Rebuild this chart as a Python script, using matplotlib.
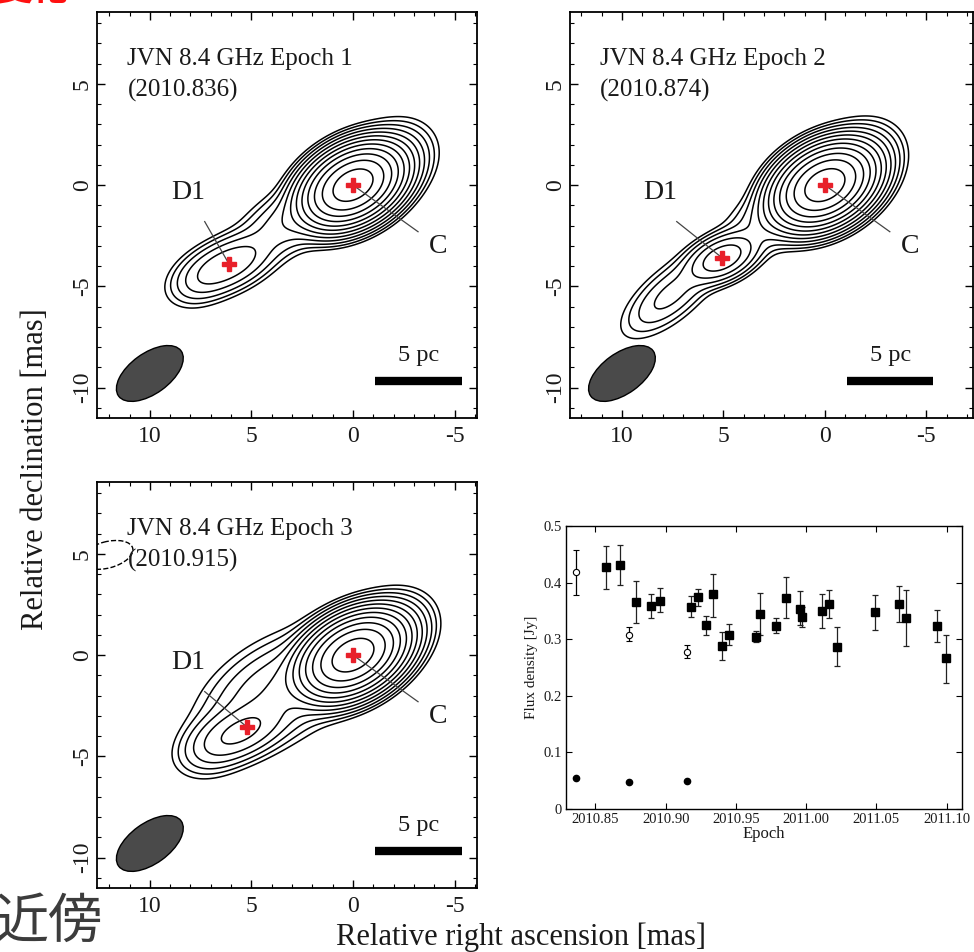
"""
JVN 8.4 GHz maps of C and D1 (three epochs) plus the flux density light curve.
"""

import matplotlib

matplotlib.use("Agg")
import matplotlib.pyplot as plt
import numpy as np
from matplotlib.patches import Ellipse
from matplotlib.ticker import MultipleLocator

plt.rcParams["font.family"] = ["Liberation Serif", "DejaVu Serif"]
plt.rcParams["axes.unicode_minus"] = False

# ---- map panels: epoch labels and component positions (mas) ----
EPOCH_TITLES = ["JVN 8.4 GHz Epoch 1", "JVN 8.4 GHz Epoch 2", "JVN 8.4 GHz Epoch 3"]
EPOCH_DATES = ["(2010.836)", "(2010.874)", "(2010.915)"]
C_POS = [(0.0, 0.0), (0.0, 0.0), (0.0, 0.0)]
D1_POS = [(6.1, -3.9), (5.05, -3.6), (5.22, -3.55)]

# gaussian model components for the brightness distribution of each epoch
# columns: ra, dec, amplitude, sigma_major, sigma_minor, position angle on screen (deg)
EP1_COMP = [
    (0.0, 0.0, 1.0, 1.05, 0.68, 30),
    (-2.0, 1.3, 0.004, 1.0, 0.8, 35),
    (3.0, -1.7, 0.004, 1.4, 0.7, 30),
    (6.1, -3.9, 0.008, 1.2, 0.6, 25),
    (7.4, -4.6, 0.0018, 0.9, 0.6, 30),
]
EP2_COMP = [
    (0.0, 0.0, 1.0, 1.05, 0.7, 30),
    (-1.8, 1.3, 0.004, 1.0, 0.8, 35),
    (2.5, -1.6, 0.003, 1.3, 0.7, 30),
    (5.05, -3.6, 0.016, 0.9, 0.5, 25),
    (7.6, -5.4, 0.003, 1.4, 0.6, 40),
]
EP3_COMP = [
    (0.0, 0.0, 1.0, 1.1, 0.7, 30),
    (-2.0, 1.3, 0.004, 1.0, 0.8, 35),
    (3.6, -1.7, 0.005, 2.0, 1.1, 30),
    (5.5, -3.8, 0.01, 1.2, 0.6, 25),
    (6.8, -4.4, 0.002, 1.0, 0.7, 30),
]
COMPONENTS = [EP1_COMP, EP2_COMP, EP3_COMP]
LEVEL_BASE = 0.6 / 2 ** 11
N_LEVELS = 12

# beam (FWHM, mas) and 5 pc scale bar
BEAM_CENTER = (10.0, -9.3)
BEAM_SIZE = (3.8, 2.0)
BEAM_ANGLE = 144
BAR_RA = (-1.1, -5.35)
BAR_DEC = -9.65

# ---- flux density light curve ----
SQ_EPOCH = [2010.8576, 2010.8675, 2010.8787, 2010.8898, 2010.8957, 2010.9178, 2010.923,
            2010.9289, 2010.9334, 2010.9398, 2010.9448, 2010.964, 2010.9668, 2010.9782,
            2010.986, 2010.9953, 2010.9972, 2011.0111, 2011.0161, 2011.0223, 2011.0493,
            2011.0664, 2011.0713, 2011.0934, 2011.0993]
SQ_FLUX = [0.427, 0.431, 0.366, 0.358, 0.368, 0.357, 0.374, 0.325, 0.379, 0.288, 0.308,
           0.304, 0.344, 0.324, 0.372, 0.354, 0.340, 0.350, 0.363, 0.287, 0.348, 0.363,
           0.337, 0.324, 0.266]
SQ_HIGH = [0.465, 0.466, 0.403, 0.380, 0.390, 0.376, 0.389, 0.341, 0.416, 0.313, 0.327,
           0.315, 0.382, 0.337, 0.409, 0.385, 0.357, 0.380, 0.387, 0.321, 0.378, 0.394,
           0.387, 0.352, 0.308]
SQ_LOW = [0.388, 0.396, 0.328, 0.337, 0.348, 0.339, 0.358, 0.308, 0.340, 0.263, 0.290,
          0.295, 0.308, 0.311, 0.337, 0.325, 0.322, 0.320, 0.338, 0.253, 0.317, 0.331,
          0.288, 0.295, 0.223]
JVN_EPOCH = [2010.836, 2010.874, 2010.915]
C_FLUX = [0.419, 0.308, 0.278]
C_HIGH = [0.458, 0.321, 0.290]
C_LOW = [0.378, 0.297, 0.267]
D1_FLUX = [0.054, 0.047, 0.049]

INK = "#1a1a1a"
RED = "#e8202a"


def model_map(comps, ra, dec):
    z = np.zeros_like(ra)
    for x0, y0, amp, smaj, smin, pa in comps:
        t = np.deg2rad(pa)
        ux, uy = -np.cos(t), np.sin(t)  # RA axis runs right-to-left
        dx, dy = ra - x0, dec - y0
        a = dx * ux + dy * uy
        b = -dx * uy + dy * ux
        z += amp * np.exp(-0.5 * ((a / smaj) ** 2 + (b / smin) ** 2))
    return z


def draw_map(ax, i, xlim):
    ra, dec = np.meshgrid(np.linspace(-9, 15, 500), np.linspace(-13, 10, 480))
    z = model_map(COMPONENTS[i], ra, dec)
    levels = LEVEL_BASE * 2.0 ** np.arange(N_LEVELS)
    ax.contour(ra, dec, z, levels=levels, colors="k", linewidths=1.1)

    ax.add_patch(Ellipse(BEAM_CENTER, BEAM_SIZE[0], BEAM_SIZE[1], angle=BEAM_ANGLE,
                         facecolor="#4a4a4a", edgecolor="k", lw=1))
    ax.plot(BAR_RA, [BAR_DEC, BAR_DEC], color="k", lw=6, solid_capstyle="butt")
    ax.text(np.mean(BAR_RA), BAR_DEC + 0.7, "5 pc", ha="center", va="bottom",
            fontsize=17.5, color=INK)

    ax.text(11.1, 5.95, EPOCH_TITLES[i], fontsize=18, color=INK, va="baseline")
    ax.text(11.1, 4.35, EPOCH_DATES[i], fontsize=18, color=INK, va="baseline")

    # component labels with leader lines
    d1x, d1y = D1_POS[i]
    ax.plot([7.3, d1x], [-1.8, d1y], color="#444444", lw=0.9)
    ax.text(8.1, -1.0, "D1", fontsize=20, color=INK, ha="center", va="bottom")
    cx, cy = C_POS[i]
    ax.plot([cx, -3.2], [cy, -2.3], color="#444444", lw=0.9)
    ax.text(-4.2, -3.05, "C", fontsize=20, color=INK, ha="center", va="center")
    ax.plot([cx, d1x], [cy, d1y], ls="none", marker="P", ms=10, color=RED, mec=RED)

    ax.set_xlim(*xlim)
    ax.set_ylim(-11.5, 8.55)
    ax.xaxis.set_major_locator(MultipleLocator(5))
    ax.xaxis.set_minor_locator(MultipleLocator(1))
    ax.yaxis.set_major_locator(MultipleLocator(5))
    ax.yaxis.set_minor_locator(MultipleLocator(1))
    ax.tick_params(which="both", direction="in", top=True, right=True, colors="k",
                   labelcolor=INK, labelsize=17)
    ax.tick_params(which="major", length=6, width=1)
    ax.tick_params(which="minor", length=3, width=0.8)
    ax.tick_params(axis="x", pad=6)
    ax.tick_params(axis="y", pad=3)
    for lab in ax.get_yticklabels():
        lab.set_rotation(90)
        lab.set_va("center")
    for s in ax.spines.values():
        s.set_linewidth(1.3)


fig = plt.figure(figsize=(9.74, 9.52), dpi=100)

ax1 = fig.add_axes([0.0996, 0.5609, 0.3901, 0.4265])
ax2 = fig.add_axes([0.5852, 0.5609, 0.4138, 0.4265])
ax3 = fig.add_axes([0.0996, 0.0672, 0.3901, 0.4265])
draw_map(ax1, 0, (12.6, -6.1))
draw_map(ax2, 1, (12.56, -7.3))
draw_map(ax3, 2, (12.6, -6.1))
ax3.add_patch(Ellipse((12.1, 4.95), 2.6, 1.3, angle=165, fill=False, ls="--",
                      lw=1, edgecolor="k"))

# flux density panel
ax4 = fig.add_axes([0.5811, 0.1502, 0.4066, 0.2973])
sq_err = [np.array(SQ_FLUX) - np.array(SQ_LOW), np.array(SQ_HIGH) - np.array(SQ_FLUX)]
ax4.errorbar(SQ_EPOCH, SQ_FLUX, yerr=sq_err, fmt="s", ms=5.5, color="k", ecolor="#222222",
             elinewidth=0.9, capsize=2, capthick=0.9)
c_err = [np.array(C_FLUX) - np.array(C_LOW), np.array(C_HIGH) - np.array(C_FLUX)]
ax4.errorbar(JVN_EPOCH, C_FLUX, yerr=c_err, fmt="o", ms=4.5, mfc="white", mec="k",
             mew=0.8, color="k", elinewidth=0.9, capsize=2, capthick=0.9)
ax4.plot(JVN_EPOCH, D1_FLUX, "o", ms=4.5, color="k")
ax4.set_xlim(2010.829, 2011.111)
ax4.set_ylim(0, 0.5)
ax4.set_xticks([2010.85, 2010.90, 2010.95, 2011.00, 2011.05, 2011.10])
ax4.set_xticklabels(["2010.85", "2010.90", "2010.95", "2011.00", "2011.05", "2011.10"])
ax4.set_yticks([0, 0.1, 0.2, 0.3, 0.4, 0.5])
ax4.set_yticklabels(["0", "0.1", "0.2", "0.3", "0.4", "0.5"])
ax4.tick_params(direction="in", top=True, right=True, length=4, width=0.8,
                labelsize=10.5, labelcolor=INK, pad=3)
ax4.set_xlabel("Epoch", fontsize=12, color=INK, labelpad=0)
ax4.set_ylabel("Flux density [Jy]", fontsize=11, color=INK, labelpad=4)
for s in ax4.spines.values():
    s.set_linewidth(1.0)

# shared axis titles
fig.text(0.036, 0.507, "Relative declination [mas]", rotation=90, fontsize=22,
         color=INK, ha="center", va="center")
fig.text(0.535, 0.016, "Relative right ascension [mas]", fontsize=22, color=INK,
         ha="center", va="center")

# slide fragments around the figure
cjk = ["Noto Sans CJK JP", "DejaVu Sans"]
fig.text(-0.006, 0.031, "近傍", family=cjk, fontsize=39, color="#3c3c3c",
         ha="left", va="center")
fig.text(-0.004, 1.011, "変化", family=cjk, fontsize=26, color="#ff1010",
         weight="bold", ha="left", va="center")

fig.savefig("out.png", dpi=100)
plt.close(fig)
